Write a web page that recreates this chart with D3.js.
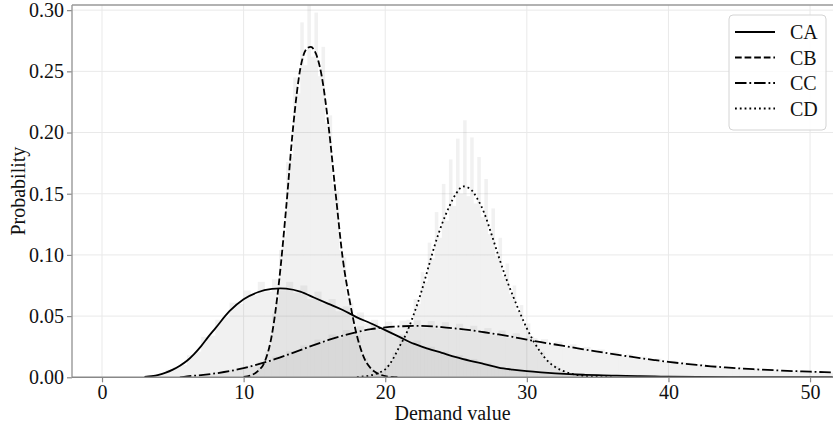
<!DOCTYPE html>
<html>
<head>
<meta charset="utf-8">
<script src="https://cdn.jsdelivr.net/npm/d3@7"></script>
<style>
  html, body { margin: 0; padding: 0; background: #fff; }
  svg { display: block; }
  text { font-family: "Liberation Serif", "Times New Roman", serif; fill: #111; }
</style>
</head>
<body>
<svg id="chart" width="833" height="425"></svg>
<script>
// ---- data -------------------------------------------------------------
const seriesNames = ["CA", "CB", "CC", "CD"];

// fitted probability curves (x = demand value, y = probability)
const caX = [3,3.5,4,4.5,5,5.5,6,6.5,7,7.5,8,9,10,11,12,12.6,13,14,15,16,17,18,19,20,21,22,23,24,25,26,27,28,29,30,31,32,33,34,35,36,37,38,39,40,42,45,48,51.6];
const caY = [0.0003,0.0009,0.002,0.0038,0.0063,0.0095,0.0135,0.019,0.0255,0.033,0.040,0.054,0.0638,0.0695,0.0722,0.0727,0.0724,0.070,0.065,0.060,0.055,0.049,0.044,0.0385,0.033,0.0275,0.0235,0.020,0.0165,0.0135,0.0108,0.008,0.0063,0.005,0.004,0.0032,0.0026,0.0021,0.0017,0.0014,0.0011,0.0009,0.0007,0.0005,0.0003,0.00015,0.00007,0.00003];

const cbX = [10,10.5,11,11.5,12,12.5,13,13.5,14,14.5,14.75,15,15.5,16,16.5,17,17.5,18,18.5,19,19.5,20,20.5,21];
const cbY = [0.0003,0.0015,0.005,0.013,0.035,0.078,0.138,0.205,0.252,0.269,0.27,0.267,0.247,0.205,0.15,0.097,0.062,0.034,0.016,0.007,0.003,0.001,0.0003,0];

const ccX = [5.5,6,7,8,9,10,11,12,13,14,15,16,17,18,19,20,21,22,23,24,25,26,27,28,29,30,31,32,33,34,35,36,37,38,39,40,41,42,43,44,45,46,47,48,49,50,51,52];
const ccY = [0,0.0008,0.0018,0.0032,0.005,0.0075,0.0105,0.014,0.018,0.0222,0.0265,0.0305,0.034,0.037,0.0393,0.0408,0.0416,0.042,0.0418,0.041,0.0398,0.0385,0.0368,0.035,0.033,0.0308,0.0287,0.0268,0.0248,0.0229,0.021,0.0192,0.0174,0.0157,0.0141,0.0126,0.0113,0.0101,0.009,0.0081,0.0073,0.0066,0.006,0.0055,0.005,0.0046,0.0042,0.0039];

const cdX = [18,18.5,19,19.5,20,20.5,21,21.5,22,22.5,23,23.5,24,24.5,25,25.5,26,26.5,27,27.5,28,28.5,29,29.5,30,30.5,31,31.5,32,32.5,33,33.5,34,35,36];
const cdY = [0.0002,0.0007,0.0017,0.0035,0.0065,0.014,0.025,0.036,0.051,0.068,0.088,0.108,0.125,0.139,0.150,0.156,0.154,0.146,0.134,0.117,0.099,0.082,0.067,0.053,0.040,0.029,0.020,0.013,0.0085,0.0055,0.0034,0.002,0.0011,0.0003,0];

// sampled histograms (first bin edge, bin width, bar heights)
const caBinStart = 3, caBinWidth = 0.5;
const caBins = [0.001,0.002,0.003,0.006,0.008,0.010,0.018,0.021,0.033,0.034,0.047,0.049,0.061,0.060,0.071,0.067,0.078,0.070,0.080,0.071,0.078,0.069,0.075,0.064,0.070,0.060,0.064,0.054,0.058,0.049,0.053,0.044,0.047,0.039,0.041,0.033,0.035,0.028,0.030,0.024,0.025,0.020,0.021,0.017,0.018,0.014,0.015,0.011,0.012,0.009,0.0085,0.0065,0.0068,0.005,0.0055,0.004,0.0043,0.0032,0.0035,0.0026,0.0029,0.0022,0.0024,0.0018,0.0019,0.0014,0.0015,0.0012,0.0013,0.0010,0.0011,0.0008,0.0009,0.0007,0.0007,0.0005,0.0006,0.0004,0.0005,0.0003,0.0004,0.0003,0.0003,0.0002,0.0003,0.0002,0.0002,0.0001,0.0002,0.0001,0.0001,0.0001,0.0001,0.0001];

const cbBinStart = 10, cbBinWidth = 0.25;
const cbBins = [0.0006,0.0012,0.0024,0.0035,0.008,0.010,0.021,0.026,0.052,0.061,0.104,0.115,0.176,0.180,0.245,0.232,0.290,0.255,0.305,0.262,0.298,0.246,0.270,0.208,0.214,0.158,0.152,0.104,0.098,0.066,0.061,0.038,0.034,0.019,0.016,0.008,0.0068,0.0036,0.0028,0.0014,0.001,0.0005,0.0004,0.0002];

const ccBinStart = 6, ccBinWidth = 0.5;
const ccBins = [0.0012,0.0013,0.0024,0.0026,0.0041,0.0043,0.0063,0.0065,0.0093,0.0092,0.0128,0.0124,0.0168,0.0162,0.0213,0.0201,0.026,0.0243,0.0307,0.0283,0.0349,0.0318,0.0386,0.0349,0.0416,0.0373,0.044,0.039,0.0455,0.040,0.0463,0.0404,0.0466,0.0403,0.046,0.0397,0.045,0.0388,0.0437,0.0374,0.0421,0.0359,0.0402,0.0342,0.0382,0.0323,0.036,0.0303,0.0335,0.0282,0.0312,0.0263,0.0291,0.0244,0.0269,0.0226,0.0248,0.0207,0.0227,0.0189,0.0207,0.0172,0.0188,0.0155,0.0169,0.014,0.0152,0.0125,0.0136,0.0112,0.0122,0.01,0.0108,0.0089,0.0097,0.008,0.0087,0.0072,0.0079,0.0065,0.0071,0.0059,0.0065,0.0054,0.006,0.0049,0.0054,0.0045,0.005,0.0041,0.0045,0.0038];

const cdBinStart = 18, cdBinWidth = 0.25;
const cdBins = [0.0004,0.0005,0.0011,0.0012,0.0025,0.0027,0.005,0.0052,0.0098,0.011,0.020,0.020,0.033,0.031,0.047,0.044,0.064,0.060,0.086,0.078,0.110,0.097,0.135,0.114,0.158,0.128,0.178,0.140,0.195,0.150,0.210,0.148,0.196,0.142,0.180,0.131,0.162,0.117,0.138,0.099,0.114,0.083,0.093,0.068,0.075,0.054,0.059,0.042,0.044,0.031,0.032,0.021,0.021,0.014,0.014,0.009,0.0092,0.0058,0.0057,0.0037,0.0035,0.0021,0.002,0.0012,0.0011,0.0007,0.0007,0.0004,0.0003,0.0002,0.0002,0.0001];

const xTicks = [0, 10, 20, 30, 40, 50];
const yTicks = [0, 0.05, 0.10, 0.15, 0.20, 0.25, 0.30];

// ---- layout -----------------------------------------------------------
const svg = d3.select("#chart");
const plot = { left: 72, right: 833, top: 5, bottom: 377.3 };

const x = d3.scaleLinear().domain([-2.12, 51.62]).range([plot.left, plot.right]);
const y = d3.scaleLinear().domain([0, 0.3042]).range([plot.bottom, plot.top]);

svg.append("defs").append("clipPath").attr("id", "plotClip")
  .append("rect")
  .attr("x", plot.left).attr("y", plot.top)
  .attr("width", plot.right - plot.left).attr("height", plot.bottom - plot.top);

// grid
const grid = svg.append("g").attr("class", "grid");
grid.selectAll("line.gx").data(xTicks).join("line")
  .attr("x1", d => x(d)).attr("x2", d => x(d))
  .attr("y1", plot.top).attr("y2", plot.bottom)
  .attr("stroke", "#e9e9e9").attr("stroke-width", 1);
grid.selectAll("line.gy").data(yTicks.slice(1)).join("line")
  .attr("x1", plot.left).attr("x2", plot.right)
  .attr("y1", d => y(d)).attr("y2", d => y(d))
  .attr("stroke", "#e9e9e9").attr("stroke-width", 1);

// histograms
const hists = [
  [caBinStart, caBinWidth, caBins],
  [cbBinStart, cbBinWidth, cbBins],
  [ccBinStart, ccBinWidth, ccBins],
  [cdBinStart, cdBinWidth, cdBins]
];
const histG = svg.append("g").attr("clip-path", "url(#plotClip)");
hists.forEach(([start, w, bins]) => {
  histG.append("g").selectAll("rect").data(bins).join("rect")
    .attr("x", (d, i) => x(start + i * w))
    .attr("width", (d, i) => x(start + (i + 1) * w) - x(start + i * w))
    .attr("y", d => y(d))
    .attr("height", d => y(0) - y(d))
    .attr("fill", "#808080")
    .attr("fill-opacity", 0.11);
});

// curves
const curves = [
  { name: "CA", xs: caX, ys: caY, dash: null },
  { name: "CB", xs: cbX, ys: cbY, dash: "6.7,2.9" },
  { name: "CC", xs: ccX, ys: ccY, dash: "11.5,2.9,1.8,2.9" },
  { name: "CD", xs: cdX, ys: cdY, dash: "1.8,3" }
];
const line = d3.line()
  .x(d => x(d[0])).y(d => y(d[1]))
  .curve(d3.curveMonotoneX);
const curveG = svg.append("g").attr("clip-path", "url(#plotClip)");
curves.forEach(c => {
  curveG.append("path")
    .datum(c.xs.map((v, i) => [v, c.ys[i]]))
    .attr("d", line)
    .attr("fill", "none")
    .attr("stroke", "#000")
    .attr("stroke-width", 1.8)
    .attr("stroke-dasharray", c.dash);
});

// axes
const xAxis = svg.append("g")
  .attr("transform", `translate(0,${plot.bottom})`)
  .call(d3.axisBottom(x).tickValues(xTicks).tickFormat(d3.format("d")).tickSize(5).tickPadding(3));
const yAxis = svg.append("g")
  .attr("transform", `translate(${plot.left},0)`)
  .call(d3.axisLeft(y).tickValues(yTicks).tickFormat(d3.format(".2f")).tickSize(5).tickPadding(3));
[xAxis, yAxis].forEach(a => {
  a.select(".domain").remove();
  a.selectAll(".tick line").attr("stroke", "#888").attr("stroke-width", 1.2);
  a.selectAll(".tick text")
    .style("font-family", '"Liberation Serif", serif')
    .style("font-size", "20px").attr("fill", "#111");
});

// spines
svg.append("line").attr("x1", plot.left).attr("x2", plot.right)
  .attr("y1", plot.top).attr("y2", plot.top).attr("stroke", "#999").attr("stroke-width", 1.6);
svg.append("line").attr("x1", plot.left).attr("x2", plot.left)
  .attr("y1", plot.top).attr("y2", plot.bottom).attr("stroke", "#999").attr("stroke-width", 1.4);
svg.append("line").attr("x1", plot.left).attr("x2", plot.right)
  .attr("y1", plot.bottom).attr("y2", plot.bottom).attr("stroke", "#888").attr("stroke-width", 1.4);

// axis titles
svg.append("text")
  .attr("x", (plot.left + plot.right) / 2).attr("y", 420)
  .attr("text-anchor", "middle").style("font-size", "20px")
  .text("Demand value");
svg.append("text")
  .attr("transform", `translate(25,${(plot.top + plot.bottom) / 2}) rotate(-90)`)
  .attr("text-anchor", "middle").style("font-size", "20px")
  .text("Probability");

// legend
const legend = svg.append("g");
legend.append("rect")
  .attr("x", 729).attr("y", 15).attr("width", 97).attr("height", 115)
  .attr("rx", 4).attr("fill", "#fff").attr("fill-opacity", 0.85)
  .attr("stroke", "#d4d4d4").attr("stroke-width", 1);
curves.forEach((c, i) => {
  const cy = 32 + i * 25.5;
  legend.append("line")
    .attr("x1", 735).attr("x2", 775).attr("y1", cy).attr("y2", cy)
    .attr("stroke", "#000").attr("stroke-width", 1.8)
    .attr("stroke-dasharray", c.dash);
  legend.append("text")
    .attr("x", 790).attr("y", cy).attr("dy", "0.35em")
    .style("font-size", "20px")
    .text(seriesNames[i]);
});
</script>
</body>
</html>
